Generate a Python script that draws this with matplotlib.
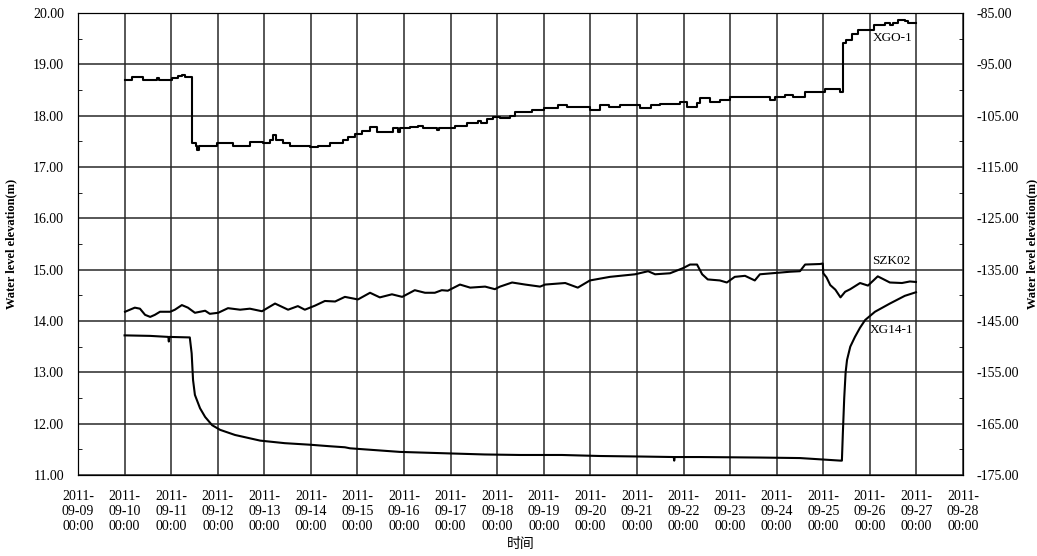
#!/usr/bin/env python3
# -*- coding: UTF-8 -*-
import pandas as pd
import matplotlib
matplotlib.use('Agg')
import matplotlib.pyplot as plt
import matplotlib.dates as mdates
from matplotlib.ticker import MultipleLocator

plt.rcParams['font.family'] = ['Liberation Serif', 'Noto Sans CJK SC', 'DejaVu Sans']
plt.rcParams['axes.unicode_minus'] = True

START = pd.Timestamp('2011-09-09 00:00')

# XGO-1 (left axis, stepped record), day offset from 09-09 00:00
xgo_days = [1.00, 1.15, 1.39, 1.70, 1.74, 2.01, 2.15, 2.23, 2.30, 2.45, 2.53, 2.56, 2.59,
            2.98, 3.33, 3.69, 3.97, 4.12, 4.19, 4.26, 4.40, 4.55, 4.98, 5.15, 5.41, 5.69,
            5.80, 5.95, 6.10, 6.27, 6.42, 6.76, 6.87, 6.92, 7.13, 7.30, 7.41, 7.70, 7.75,
            8.09, 8.35, 8.59, 8.65, 8.78, 8.90, 9.06, 9.27, 9.38, 9.75, 10.00, 10.30, 10.50,
            10.99, 11.21, 11.40, 11.64, 12.07, 12.30, 12.50, 12.92, 13.08, 13.29, 13.35,
            13.57, 13.78, 14.00, 14.86, 14.96, 15.18, 15.35, 15.61, 16.04, 16.37, 16.42,
            16.49, 16.62, 16.75, 17.09, 17.33, 17.43, 17.50, 17.60, 17.75, 17.82, 18.00]
xgo_vals = [18.69, 18.76, 18.69, 18.74, 18.69, 18.74, 18.77, 18.79, 18.76, 17.46, 17.41, 17.33, 17.41,
            17.46, 17.41, 17.49, 17.46, 17.52, 17.62, 17.52, 17.46, 17.41, 17.38, 17.41, 17.46, 17.52,
            17.59, 17.65, 17.70, 17.77, 17.69, 17.75, 17.68, 17.75, 17.78, 17.80, 17.75, 17.73, 17.75,
            17.80, 17.85, 17.89, 17.85, 17.93, 17.97, 17.95, 18.00, 18.08, 18.12, 18.15, 18.20, 18.17,
            18.12, 18.20, 18.17, 18.20, 18.15, 18.20, 18.22, 18.27, 18.16, 18.24, 18.34,
            18.27, 18.31, 18.37, 18.31, 18.37, 18.41, 18.37, 18.47, 18.51, 18.47, 19.41,
            19.47, 19.60, 19.67, 19.77, 19.80, 19.77, 19.80, 19.86, 19.84, 19.80, 19.80]

# SZK02 (left axis)
szk_days = [1.01, 1.22, 1.33, 1.44, 1.55, 1.65, 1.76, 1.98, 2.08, 2.23, 2.36, 2.51, 2.73, 2.83,
            3.01, 3.22, 3.48, 3.69, 3.95, 4.23, 4.51, 4.72, 4.87, 5.09, 5.30, 5.52, 5.73, 6.01,
            6.27, 6.48, 6.74, 6.96, 7.23, 7.45, 7.66, 7.81, 7.94, 8.20, 8.42, 8.74, 8.95, 9.06,
            9.32, 9.60, 9.92, 10.03, 10.46, 10.73, 10.99, 11.42, 11.96, 12.24, 12.39, 12.71,
            12.99, 13.14, 13.29, 13.40, 13.52, 13.78, 13.93, 14.10, 14.32, 14.53, 14.64, 15.29,
            15.50, 15.61, 15.93, 15.99, 16.00, 16.07, 16.15, 16.26, 16.37, 16.47, 16.58, 16.79,
            16.96, 17.17, 17.43, 17.69, 17.86, 17.99]
szk_vals = [14.18, 14.26, 14.24, 14.12, 14.08, 14.12, 14.18, 14.18, 14.22, 14.31, 14.26, 14.16, 14.20, 14.14,
            14.16, 14.25, 14.22, 14.24, 14.19, 14.34, 14.22, 14.29, 14.22, 14.30, 14.39, 14.38, 14.47, 14.42,
            14.55, 14.46, 14.52, 14.47, 14.60, 14.55, 14.55, 14.60, 14.59, 14.71, 14.65, 14.67, 14.62, 14.67,
            14.75, 14.71, 14.67, 14.71, 14.74, 14.65, 14.79, 14.86, 14.91, 14.97, 14.91, 14.93,
            15.03, 15.10, 15.10, 14.91, 14.81, 14.79, 14.75, 14.86, 14.88, 14.79, 14.91, 14.96,
            14.97, 15.10, 15.11, 15.12, 14.93, 14.85, 14.70, 14.61, 14.46, 14.57, 14.62, 14.74,
            14.69, 14.87, 14.75, 14.74, 14.77, 14.76]

# XG14-1 (right axis)
xg14_days = [1.00, 1.55, 1.94, 1.95, 1.96, 2.40, 2.44, 2.47, 2.51, 2.62, 2.73, 2.88, 3.05, 3.37,
             3.91, 4.44, 4.98, 5.41, 5.73, 5.84, 6.91, 7.99, 8.73, 9.49, 10.39, 11.21, 12.07,
             12.79, 12.80, 12.81, 13.35, 14.64, 15.50, 16.37, 16.40, 16.42, 16.45, 16.48, 16.51,
             16.58, 16.68, 16.79, 16.90, 17.11, 17.43, 17.75, 17.99]
xg14_vals = [-147.8, -147.9, -148.1, -149.0, -148.1, -148.2, -151.3, -156.5, -159.4, -162.0, -163.7,
             -165.3, -166.2, -167.2, -168.3, -168.8, -169.1, -169.4, -169.6, -169.8, -170.5, -170.8,
             -171.0, -171.1, -171.1, -171.3, -171.4, -171.5, -172.2, -171.5, -171.5, -171.6, -171.7,
             -172.2, -172.2, -167.0, -160.0, -155.0, -152.6, -150.0, -148.1, -146.3, -144.8, -143.2,
             -141.6, -140.1, -139.4]

left_ticks = [11, 12, 13, 14, 15, 16, 17, 18, 19, 20]
right_ticks = [-175, -165, -155, -145, -135, -125, -115, -105, -95, -85]


def to_time(days):
    return START + pd.to_timedelta(days, unit='D')


fig = plt.figure(figsize=(10.37, 5.56), dpi=100)
ax = fig.add_axes([78 / 1037, 1 - 475 / 556, 885 / 1037, 462 / 556])
ax2 = ax.twinx()

ax.plot(to_time(xgo_days), xgo_vals, color='black', lw=1.5, drawstyle='steps-post')
ax.plot(to_time(szk_days), szk_vals, color='black', lw=1.5)
ax2.plot(to_time(xg14_days), xg14_vals, color='black', lw=1.5)

ax.set_xlim(START, pd.Timestamp('2011-09-28 00:00'))
ax.set_ylim(11, 20)
ax2.set_ylim(-175, -85)
ax.set_yticks(left_ticks)
ax2.set_yticks(right_ticks)
ax.yaxis.set_major_formatter(plt.FormatStrFormatter('%.2f'))
ax2.yaxis.set_major_formatter(plt.FormatStrFormatter('%.2f'))
ax.yaxis.set_minor_locator(MultipleLocator(0.5))
ax2.yaxis.set_minor_locator(MultipleLocator(5))

ax.xaxis.set_major_locator(mdates.DayLocator())
ax.xaxis.set_major_formatter(mdates.DateFormatter('%Y-\n%m-%d\n%H:%M'))

ax.grid(True, which='major', color='#282828', lw=1.1)
ax.set_axisbelow(True)
ax.tick_params(axis='both', which='major', direction='in', length=0, pad=10, labelsize=10)
ax.tick_params(axis='x', pad=11)
ax.tick_params(axis='y', which='minor', direction='in', length=3)
ax2.tick_params(axis='y', which='major', direction='in', length=0, pad=10, labelsize=10)
ax2.tick_params(axis='y', which='minor', direction='in', length=3)
for lbl in ax.get_xticklabels():
    lbl.set_linespacing(1.2)
    lbl.set_horizontalalignment('center')

ax.set_xlabel('时间', fontsize=10, va='center')
ax.xaxis.set_label_coords(0.5, -0.151)
ax.set_ylabel('Water level elevation(m)', fontsize=9, fontweight='bold')
ax.yaxis.set_label_coords(-0.069, 0.5)
ax2.set_ylabel('Water level elevation(m)', fontsize=9, fontweight='bold', rotation=90)
ax2.yaxis.set_label_coords(1.072, 0.5)

ax.text(to_time(17.48), 19.52, 'XGO-1', fontsize=9.5, ha='center', va='center')
ax.text(to_time(17.45), 15.17, 'SZK02', fontsize=9.5, ha='center', va='center')
ax.text(to_time(17.47), 13.82, 'XG14-1', fontsize=9.5, ha='center', va='center')

fig.savefig('out.png', dpi=100)
